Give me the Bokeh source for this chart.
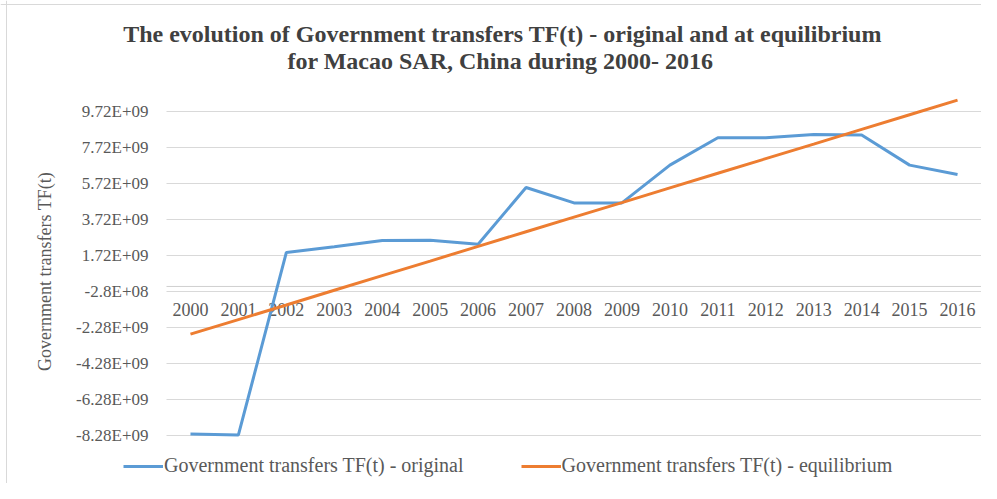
import math
from bokeh.plotting import figure
from bokeh.models import Range1d, Legend, LegendItem, Label, Span
from bokeh.embed import file_html
from bokeh.resources import INLINE

years = [2000, 2001, 2002, 2003, 2004, 2005, 2006, 2007, 2008,
         2009, 2010, 2011, 2012, 2013, 2014, 2015, 2016]
year_labels = [str(y) for y in years]
original = [-8.20e9, -8.25e9, 1.89e9, 2.20e9, 2.55e9, 2.57e9, 2.35e9, 5.50e9, 4.64e9,
            4.64e9, 6.74e9, 8.26e9, 8.26e9, 8.44e9, 8.41e9, 6.74e9, 6.22e9]
equilibrium = [-2.65e9, -1.84e9, -1.03e9, -0.21e9, 0.60e9, 1.41e9, 2.23e9, 3.04e9, 3.85e9,
               4.66e9, 5.48e9, 6.29e9, 7.10e9, 7.91e9, 8.73e9, 9.54e9, 10.35e9]
y_ticks = [-8.28e9, -6.28e9, -4.28e9, -2.28e9, -0.28e9, 1.72e9, 3.72e9, 5.72e9, 7.72e9, 9.72e9]
y_tick_labels = ["-8.28E+09", "-6.28E+09", "-4.28E+09", "-2.28E+09", "-2.8E+08",
                 "1.72E+09", "3.72E+09", "5.72E+09", "7.72E+09", "9.72E+09"]

title_line1 = "The evolution of Government transfers TF(t) - original and at equilibrium"
title_line2 = "for Macao SAR, China during   2000- 2016"
y_label = "Government transfers TF(t)"
name_orig = "Government transfers TF(t) - original"
name_eq = "Government transfers TF(t) - equilibrium"

SERIF = "Liberation Serif"
GRAY = "#595959"
W, H = 981, 483

# category band edges of the plot area
x_lo, x_hi = years[0] - 0.5, years[-1] + 0.5
px_per_year = (W - 166) / (x_hi - x_lo)
px_per_unit = 18 / 1e9
x_start = x_lo - 166 / px_per_year
y_top = y_ticks[-1] + 111 / px_per_unit
y_bottom = y_ticks[0] - (H - 435) / px_per_unit

p = figure(width=W, height=H, x_range=Range1d(x_start, x_hi),
           y_range=Range1d(y_bottom, y_top), output_backend="svg",
           toolbar_location=None, x_axis_location=None, y_axis_location=None,
           title=None, min_border=0)
p.outline_line_color = None
p.background_fill_color = "white"
p.border_fill_color = "white"
p.grid.visible = False

# chart-area border (top and left edges visible in the reference)
p.add_layout(Span(location=H - 4, location_units="screen", dimension="width",
                  line_color="#D9D9D9", line_width=1))
p.add_layout(Span(location=6, location_units="screen", dimension="height",
                  line_color="#D9D9D9", line_width=1))

# horizontal gridlines across the category area
p.segment(x0=[x_lo] * len(y_ticks), x1=[x_hi] * len(y_ticks), y0=y_ticks, y1=y_ticks,
          line_color="#D9D9D9", line_width=1)
# category axis line at zero
p.segment(x0=[x_lo], x1=[x_hi], y0=[0], y1=[0], line_color="#CFCFCF", line_width=1)

# value axis labels
p.text(x=[x_lo] * len(y_ticks), y=y_ticks, text=y_tick_labels, x_offset=-18,
       text_align="right", text_baseline="middle", text_font=SERIF,
       text_font_size="17px", text_color=GRAY)
# category labels under the zero line
p.text(x=years, y=[0] * len(years), text=year_labels, y_offset=17,
       text_align="center", text_baseline="top", text_font=SERIF,
       text_font_size="18px", text_color=GRAY)

# axis title and chart title
p.add_layout(Label(x=44, y=H - 271, x_units="screen", y_units="screen", text=y_label,
                   angle=math.pi / 2, text_align="center", text_baseline="middle",
                   text_font=SERIF, text_font_size="18px", text_color=GRAY))
p.add_layout(Label(x=502, y=H - 33, x_units="screen", y_units="screen", text=title_line1,
                   text_align="center", text_baseline="middle", text_font=SERIF,
                   text_font_style="bold", text_font_size="24px", text_color="#404040"))
p.add_layout(Label(x=506, y=H - 60, x_units="screen", y_units="screen", text=title_line2,
                   text_align="center", text_baseline="middle", text_font=SERIF,
                   text_font_style="bold", text_font_size="24px", text_color="#404040"))

r1 = p.line(years, original, line_color="#5B9BD5", line_width=3)
r2 = p.line(years, equilibrium, line_color="#ED7D31", line_width=3)

legend = Legend(items=[LegendItem(label=name_orig, renderers=[r1]),
                       LegendItem(label=name_eq, renderers=[r2])],
                orientation="horizontal", location=(123, 6),
                label_text_font=SERIF, label_text_font_size="20px",
                label_text_color=GRAY, glyph_width=40, label_standoff=1,
                spacing=57, border_line_color=None, background_fill_alpha=0,
                padding=0, margin=0)
p.add_layout(legend, "center")

open("out.html", "w").write(file_html(p, INLINE))
